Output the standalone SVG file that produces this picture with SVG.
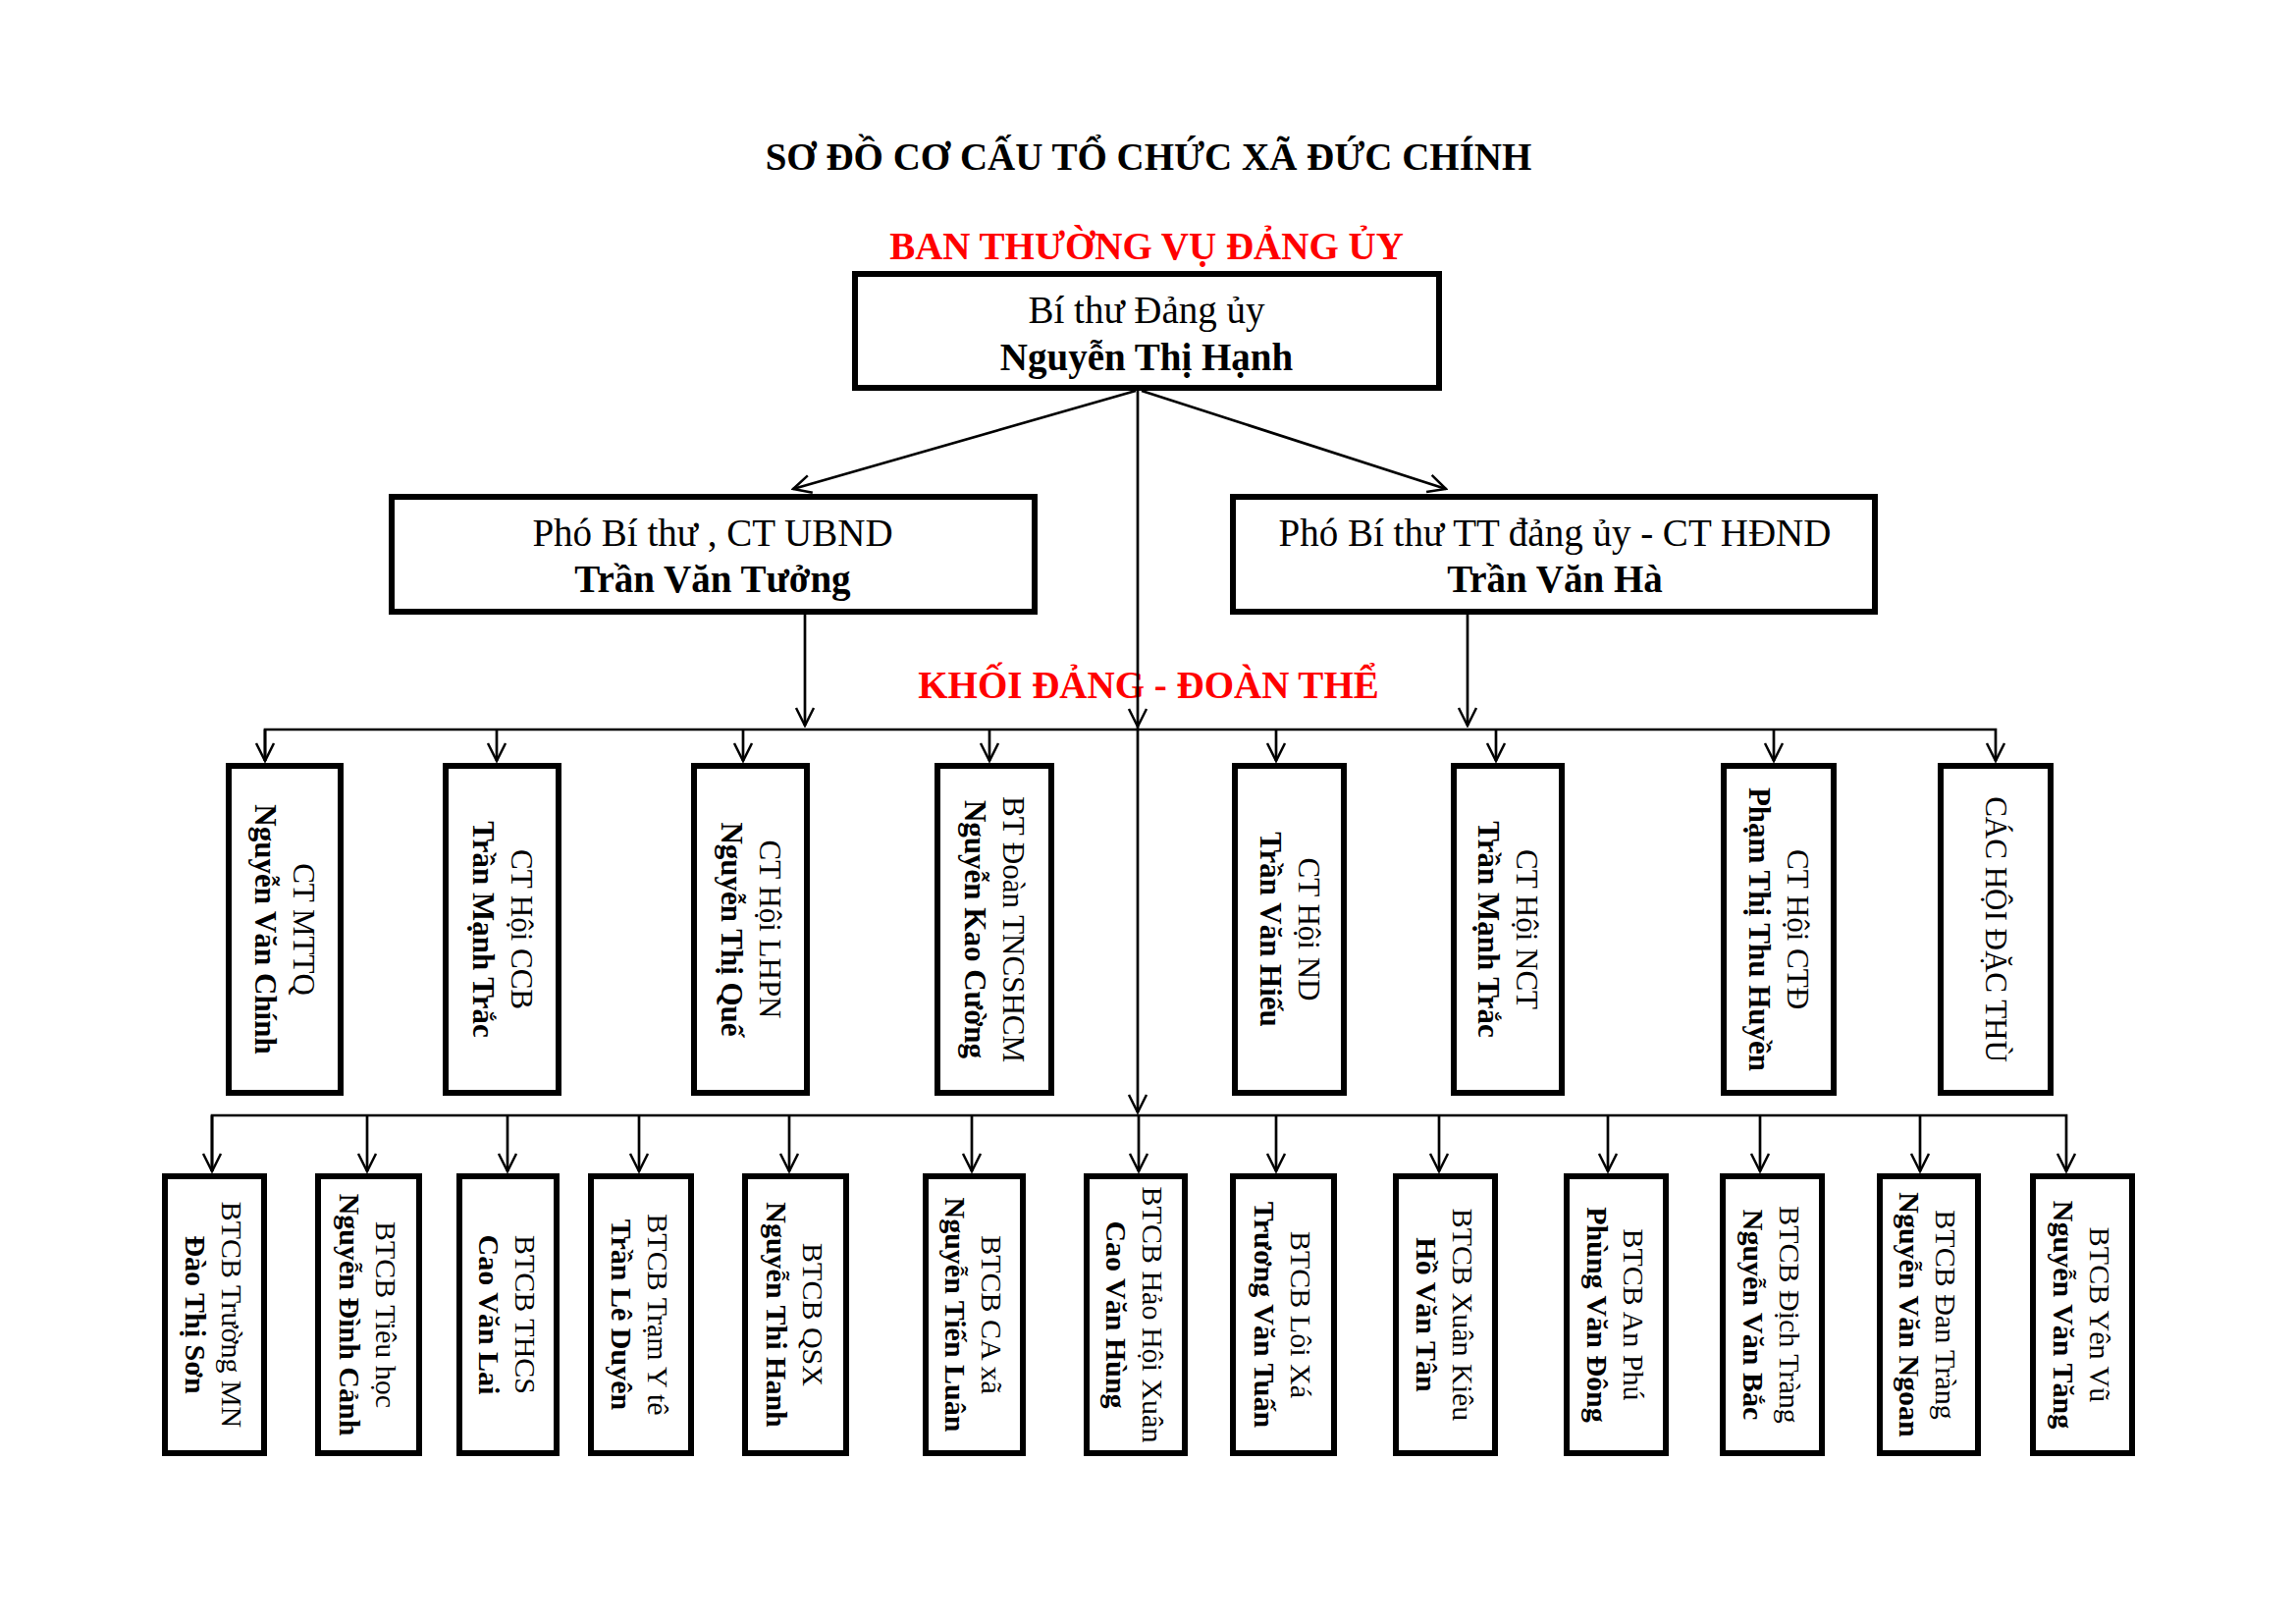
<svg xmlns="http://www.w3.org/2000/svg" width="2339" height="1654" viewBox="0 0 2339 1654">
<style>
text{font-family:"Liberation Serif","Times New Roman",serif;fill:#000}
.t{font-size:39px;font-weight:bold;text-anchor:middle}
.red{fill:#ff0000}
.h{font-size:39px;text-anchor:middle}
.b{font-weight:bold}
.v2{font-size:31px;text-anchor:middle}
.v3{font-size:30px;text-anchor:middle}
.box{fill:#fff;stroke:#000;stroke-width:6}
.ln{fill:none;stroke:#000;stroke-width:2.7}
</style>
<defs>
<marker id="ah" markerUnits="userSpaceOnUse" viewBox="-20 -12 22 24" markerWidth="22" markerHeight="24" refX="0" refY="0" orient="auto">
<path d="M-18,-9 L0,0 L-18,9" fill="none" stroke="#000" stroke-width="2.5"/>
</marker>
</defs>
<rect width="2339" height="1654" fill="#fff"/>
<text class="t" x="1170" y="173">SƠ ĐỒ CƠ CẤU TỔ CHỨC XÃ ĐỨC CHÍNH</text>
<text class="t red" x="1168" y="264">BAN THƯỜNG VỤ ĐẢNG ỦY</text>
<text class="t red" x="1170" y="711">KHỐI ĐẢNG - ĐOÀN THỂ</text>

<g id="connectors">
<line class="ln" x1="1157" y1="398" x2="808" y2="498" marker-end="url(#ah)"/>
<line class="ln" x1="1163" y1="398" x2="1473" y2="498" marker-end="url(#ah)"/>
<line class="ln" x1="1159" y1="398" x2="1159" y2="740" marker-end="url(#ah)"/>
<line class="ln" x1="1159" y1="740" x2="1159" y2="1133" marker-end="url(#ah)"/>
<line class="ln" x1="820" y1="626" x2="820" y2="739" marker-end="url(#ah)"/>
<line class="ln" x1="1495" y1="626" x2="1495" y2="739" marker-end="url(#ah)"/>
<polyline class="ln" points="270,775 270,743 2033,743 2033,775" marker-end="url(#ah)"/>
<line class="ln" x1="270" y1="743" x2="270" y2="775" marker-end="url(#ah)"/>
<line class="ln" x1="506" y1="743" x2="506" y2="775" marker-end="url(#ah)"/>
<line class="ln" x1="757" y1="743" x2="757" y2="775" marker-end="url(#ah)"/>
<line class="ln" x1="1008" y1="743" x2="1008" y2="775" marker-end="url(#ah)"/>
<line class="ln" x1="1300" y1="743" x2="1300" y2="775" marker-end="url(#ah)"/>
<line class="ln" x1="1524" y1="743" x2="1524" y2="775" marker-end="url(#ah)"/>
<line class="ln" x1="1807" y1="743" x2="1807" y2="775" marker-end="url(#ah)"/>
<polyline class="ln" points="216,1193 216,1136 2105,1136 2105,1193" marker-end="url(#ah)"/>
<line class="ln" x1="216" y1="1136" x2="216" y2="1193" marker-end="url(#ah)"/>
<line class="ln" x1="374" y1="1136" x2="374" y2="1193" marker-end="url(#ah)"/>
<line class="ln" x1="517" y1="1136" x2="517" y2="1193" marker-end="url(#ah)"/>
<line class="ln" x1="651" y1="1136" x2="651" y2="1193" marker-end="url(#ah)"/>
<line class="ln" x1="804" y1="1136" x2="804" y2="1193" marker-end="url(#ah)"/>
<line class="ln" x1="990" y1="1136" x2="990" y2="1193" marker-end="url(#ah)"/>
<line class="ln" x1="1160" y1="1136" x2="1160" y2="1193" marker-end="url(#ah)"/>
<line class="ln" x1="1300" y1="1136" x2="1300" y2="1193" marker-end="url(#ah)"/>
<line class="ln" x1="1466" y1="1136" x2="1466" y2="1193" marker-end="url(#ah)"/>
<line class="ln" x1="1638" y1="1136" x2="1638" y2="1193" marker-end="url(#ah)"/>
<line class="ln" x1="1793" y1="1136" x2="1793" y2="1193" marker-end="url(#ah)"/>
<line class="ln" x1="1956" y1="1136" x2="1956" y2="1193" marker-end="url(#ah)"/>
</g>

<g id="bi-thu">
<rect class="box" x="871" y="279" width="595" height="116"/>
<text class="h" x="1168" y="329">Bí thư Đảng ủy</text>
<text class="h b" x="1168" y="377">Nguyễn Thị Hạnh</text>
</g>
<g id="pho-bi-thu-ubnd">
<rect class="box" x="399" y="506" width="655" height="117"/>
<text class="h" x="726" y="556">Phó Bí thư , CT UBND</text>
<text class="h b" x="726" y="603">Trần Văn Tưởng</text>
</g>
<g id="pho-bi-thu-hdnd">
<rect class="box" x="1256" y="506" width="654" height="117"/>
<text class="h" x="1584" y="556">Phó Bí thư TT đảng ủy - CT HĐND</text>
<text class="h b" x="1584" y="603">Trần Văn Hà</text>
</g>

<g id="mttq"><rect class="box" x="233" y="780" width="114" height="333"/>
<text class="v2" transform="translate(290,946.5) rotate(90)"><tspan x="0" y="-9">CT MTTQ</tspan><tspan class="b" x="0" y="30">Nguyễn Văn Chính</tspan></text></g>
<g id="ccb"><rect class="box" x="454" y="780" width="115" height="333"/>
<text class="v2" transform="translate(511.5,946.5) rotate(90)"><tspan x="0" y="-9">CT Hội CCB</tspan><tspan class="b" x="0" y="30">Trần Mạnh Trắc</tspan></text></g>
<g id="lhpn"><rect class="box" x="707" y="780" width="115" height="333"/>
<text class="v2" transform="translate(764.5,946.5) rotate(90)"><tspan x="0" y="-9">CT Hội LHPN</tspan><tspan class="b" x="0" y="30">Nguyễn Thị Quế</tspan></text></g>
<g id="doan"><rect class="box" x="955" y="780" width="116" height="333"/>
<text class="v2" transform="translate(1013,946.5) rotate(90)"><tspan x="0" y="-9">BT Đoàn TNCSHCM</tspan><tspan class="b" x="0" y="30">Nguyễn Kao Cường</tspan></text></g>
<g id="nd"><rect class="box" x="1258" y="780" width="111" height="333"/>
<text class="v2" transform="translate(1313.5,946.5) rotate(90)"><tspan x="0" y="-9">CT Hội ND</tspan><tspan class="b" x="0" y="30">Trần Văn Hiếu</tspan></text></g>
<g id="nct"><rect class="box" x="1481" y="780" width="110" height="333"/>
<text class="v2" transform="translate(1536,946.5) rotate(90)"><tspan x="0" y="-9">CT Hội NCT</tspan><tspan class="b" x="0" y="30">Trần Mạnh Trắc</tspan></text></g>
<g id="ctd"><rect class="box" x="1756" y="780" width="112" height="333"/>
<text class="v2" transform="translate(1812,946.5) rotate(90)"><tspan x="0" y="-9">CT Hội CTĐ</tspan><tspan class="b" x="0" y="30">Phạm Thị Thu Huyền</tspan></text></g>
<g id="dac-thu"><rect class="box" x="1977" y="780" width="112" height="333"/>
<text class="v2" transform="translate(2033,946.5) rotate(90)"><tspan x="0" y="10">CÁC HỘI ĐẶC THÙ</tspan></text></g>

<g id="mn"><rect class="box" x="168" y="1198" width="101" height="282"/>
<text class="v3" transform="translate(218.5,1339) rotate(90)"><tspan x="0" y="-7">BTCB Trường MN</tspan><tspan class="b" x="0" y="30">Đào Thị Sơn</tspan></text></g>
<g id="tieu-hoc"><rect class="box" x="324" y="1198" width="103" height="282"/>
<text class="v3" transform="translate(375.5,1339) rotate(90)"><tspan x="0" y="-7">BTCB Tiêu học</tspan><tspan class="b" x="0" y="30">Nguyễn Đình Cảnh</tspan></text></g>
<g id="thcs"><rect class="box" x="468" y="1198" width="99" height="282"/>
<text class="v3" transform="translate(517.5,1339) rotate(90)"><tspan x="0" y="-7">BTCB THCS</tspan><tspan class="b" x="0" y="30">Cao Văn Lai</tspan></text></g>
<g id="yte"><rect class="box" x="602" y="1198" width="102" height="282"/>
<text class="v3" transform="translate(653,1339) rotate(90)"><tspan x="0" y="-7">BTCB Trạm Y tê</tspan><tspan class="b" x="0" y="30">Trần Lê Duyên</tspan></text></g>
<g id="qsx"><rect class="box" x="759" y="1198" width="103" height="282"/>
<text class="v3" transform="translate(810.5,1339) rotate(90)"><tspan x="0" y="-7">BTCB QSX</tspan><tspan class="b" x="0" y="30">Nguyễn Thi Hanh</tspan></text></g>
<g id="ca"><rect class="box" x="943" y="1198" width="99" height="282"/>
<text class="v3" transform="translate(992.5,1339) rotate(90)"><tspan x="0" y="-7">BTCB CA xã</tspan><tspan class="b" x="0" y="30">Nguyễn Tiến Luân</tspan></text></g>
<g id="hao-hoi-xuan"><rect class="box" x="1107" y="1198" width="100" height="282"/>
<text class="v3" transform="translate(1157,1339) rotate(90)"><tspan x="0" y="-7">BTCB Hảo Hội Xuân</tspan><tspan class="b" x="0" y="30">Cao Văn Hùng</tspan></text></g>
<g id="loi-xa"><rect class="box" x="1256" y="1198" width="103" height="282"/>
<text class="v3" transform="translate(1307.5,1339) rotate(90)"><tspan x="0" y="-7">BTCB Lôi Xá</tspan><tspan class="b" x="0" y="30">Trương Văn Tuấn</tspan></text></g>
<g id="xuan-kieu"><rect class="box" x="1422" y="1198" width="101" height="282"/>
<text class="v3" transform="translate(1472.5,1339) rotate(90)"><tspan x="0" y="-7">BTCB Xuân Kiêu</tspan><tspan class="b" x="0" y="30">Hồ Văn Tân</tspan></text></g>
<g id="an-phu"><rect class="box" x="1596" y="1198" width="101" height="282"/>
<text class="v3" transform="translate(1646.5,1339) rotate(90)"><tspan x="0" y="-7">BTCB An Phú</tspan><tspan class="b" x="0" y="30">Phùng Văn Đông</tspan></text></g>
<g id="dich-trang"><rect class="box" x="1755" y="1198" width="101" height="282"/>
<text class="v3" transform="translate(1805.5,1339) rotate(90)"><tspan x="0" y="-7">BTCB Địch Tràng</tspan><tspan class="b" x="0" y="30">Nguyễn Văn Bắc</tspan></text></g>
<g id="dan-trang"><rect class="box" x="1915" y="1198" width="100" height="282"/>
<text class="v3" transform="translate(1965,1339) rotate(90)"><tspan x="0" y="-7">BTCB Đan Tràng</tspan><tspan class="b" x="0" y="30">Nguyễn Văn Ngoan</tspan></text></g>
<g id="yen-vu"><rect class="box" x="2071" y="1198" width="101" height="282"/>
<text class="v3" transform="translate(2121.5,1339) rotate(90)"><tspan x="0" y="-7">BTCB Yên Vũ</tspan><tspan class="b" x="0" y="30">Nguyễn Văn Tăng</tspan></text></g>
</svg>
